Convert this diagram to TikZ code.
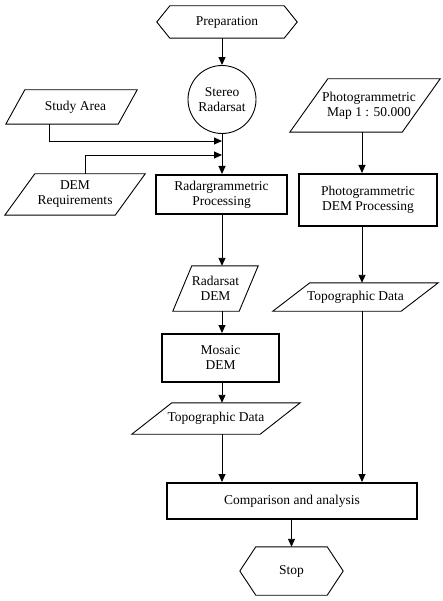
\documentclass[tikz,border=0pt]{standalone}
\usepackage{fontspec}
\setmainfont{Liberation Serif}
\usetikzlibrary{arrows.meta}
\tikzset{
  every node/.style={font=\fontsize{13.5}{15}\selectfont, align=center, inner sep=0pt},
  holder/.style={draw=none, minimum width=#1},
  thinline/.style={line width=0.9pt},
  thickbox/.style={draw, line width=2pt},
  arr/.style={thinline, -{Triangle[length=8pt,width=7pt]}},
  con/.style={thinline}
}
\newcommand{\parashape}[2]{\draw[thinline, line join=miter] ([xshift=#2]#1.north west) -- (#1.north east) -- ([xshift=-#2]#1.south east) -- (#1.south west) -- cycle;}
\newcommand{\hexshape}[2]{\draw[thinline] (#1.west) -- ([xshift=#2]#1.north west) -- ([xshift=-#2]#1.north east) -- (#1.east) -- ([xshift=-#2]#1.south east) -- ([xshift=#2]#1.south west) -- cycle;}
\begin{document}
\begin{tikzpicture}[x=1pt,y=-1pt]
\useasboundingbox (0,0) rectangle (443,601);
% column coordinates
\coordinate (lx) at (222,0);
\coordinate (px) at (362,0);
% nodes
\node[holder=140pt, minimum height=32pt] (prep) at (227,22) {Preparation};
\node[draw, thinline, circle, minimum size=68pt] (radar) at (222,99.5) {Stereo\\Radarsat};
\node[holder=131pt, minimum height=34pt] (study) at (71.5,107) {\hspace*{8pt}Study Area};
\node[holder=140pt, minimum height=41pt] (demreq) at (75,194.5) {DEM\\Requirements};
\node[thickbox, minimum width=131pt, minimum height=39pt] (radproc) at (221.5,194.5) {Radargrammetric\\Processing};
\node[holder=150pt, minimum height=53pt] (photomap) at (365,105.5) {\hspace*{8pt}Photogrammetric\\\hspace*{8pt}Map 1 : 50.000};
\node[thickbox, minimum width=138pt, minimum height=52pt] (photoproc) at (368,200) {Photogrammetric\\DEM Processing};
\node[holder=85pt, minimum height=45pt] (radardem) at (215.5,288.5) {Radarsat\\DEM};
\node[thickbox, minimum width=117pt, minimum height=48pt] (mosaic) at (220.5,358) {Mosaic\\DEM};
\node[holder=168pt, minimum height=31pt] (topo1) at (216,418.5) {Topographic Data};
\node[holder=165pt, minimum height=28pt] (topo2) at (355.5,297) {Topographic Data};
\node[thickbox, minimum width=250pt, minimum height=36pt] (comp) at (292,501) {Comparison and analysis};
\node[holder=103pt, minimum height=48pt] (stop) at (291.5,571) {Stop};
% shapes
\hexshape{prep}{13}
\hexshape{stop}{16}
\parashape{study}{19}
\parashape{demreq}{30}
\parashape{photomap}{38}
\parashape{radardem}{19}
\parashape{topo1}{40}
\parashape{topo2}{37}
% junctions
\coordinate (j1) at (222,141);
\coordinate (j2) at (222,155);
% connectors
\draw[arr] (prep.south -| lx) -- (radar.north -| lx);
\draw[arr] (radar.south -| lx) -- (radproc.north -| lx);
\draw[arr] ([xshift=-22.5pt]study.south) |- (j1);
\draw[arr] ([xshift=10pt]demreq.north) |- (j2);
\draw[arr] (radproc.south -| lx) -- (radardem.north -| lx);
\draw[arr] (radardem.south -| lx) -- (mosaic.north -| lx);
\draw[arr] (mosaic.south -| lx) -- (topo1.north -| lx);
\draw[arr] (topo1.south -| lx) -- (comp.north -| lx);
\draw[arr] (photomap.south -| px) -- (photoproc.north -| px);
\draw[arr] (photoproc.south -| px) -- (topo2.north -| px);
\draw[arr] (topo2.south -| px) -- (comp.north -| px);
\draw[arr] (comp.south -| stop.north) -- (stop.north);
\end{tikzpicture}
\end{document}
